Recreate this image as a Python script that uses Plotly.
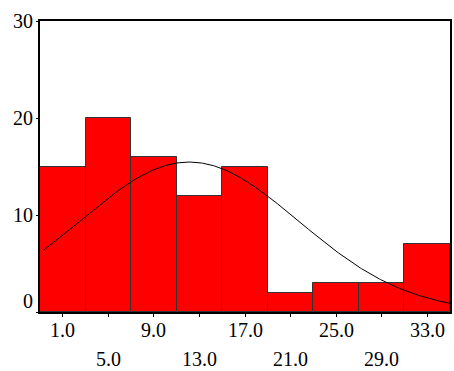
import numpy as np
import plotly.graph_objects as go

bin_centers = [1, 5, 9, 13, 17, 21, 25, 29, 33]
counts = [15, 20, 16, 12, 15, 2, 3, 3, 7]
bin_width = 4
x_labels_row1 = [1, 9, 17, 25, 33]
x_labels_row2 = [5, 13, 21, 29]
y_ticks = [0, 10, 20, 30]

# normal curve parameters
mean = 12.1
sd = 9.6
n_total = sum(counts)

xc = np.linspace(-0.7, 35, 300)
yc = n_total * bin_width / (sd * np.sqrt(2 * np.pi)) * np.exp(-0.5 * ((xc - mean) / sd) ** 2)

fig = go.Figure()
fig.add_trace(go.Bar(x=bin_centers, y=counts, width=bin_width,
                     marker=dict(color="#ff0000", line=dict(color="#333333", width=1))))
fig.add_trace(go.Scatter(x=xc, y=yc, mode="lines", line=dict(color="black", width=1)))

font = dict(family="Liberation Serif", size=20, color="black")
ann = []
for v in x_labels_row1:
    ann.append(dict(x=v, y=0, xref="x", yref="paper", text=f"{v:.1f}", showarrow=False,
                    yanchor="middle", yshift=-18, font=font))
for v in x_labels_row2:
    ann.append(dict(x=v, y=0, xref="x", yref="paper", text=f"{v:.1f}", showarrow=False,
                    yanchor="middle", yshift=-47, font=font))
for v in y_ticks:
    ann.append(dict(x=0, y=v, xref="paper", yref="y", text=str(v), showarrow=False,
                    xanchor="right", yanchor="middle", xshift=-5,
                    yshift=11 if v == 0 else 0, font=font))

fig.update_layout(
    width=454, height=371,
    margin=dict(l=40, r=2, t=21, b=59),
    paper_bgcolor="white", plot_bgcolor="white",
    showlegend=False, bargap=0,
    annotations=ann,
    xaxis=dict(range=[-1, 35], showgrid=False, zeroline=False, showticklabels=False,
               tickvals=bin_centers, ticks="outside", ticklen=3, tickcolor="black",
               showline=True, linecolor="black", linewidth=1.5, mirror=True),
    yaxis=dict(range=[0, 30], showgrid=False, zeroline=False, showticklabels=False,
               tickvals=y_ticks, ticks="outside", ticklen=2, tickcolor="black",
               showline=True, linecolor="black", linewidth=1.5, mirror=True),
)
fig.write_html("out.html")
